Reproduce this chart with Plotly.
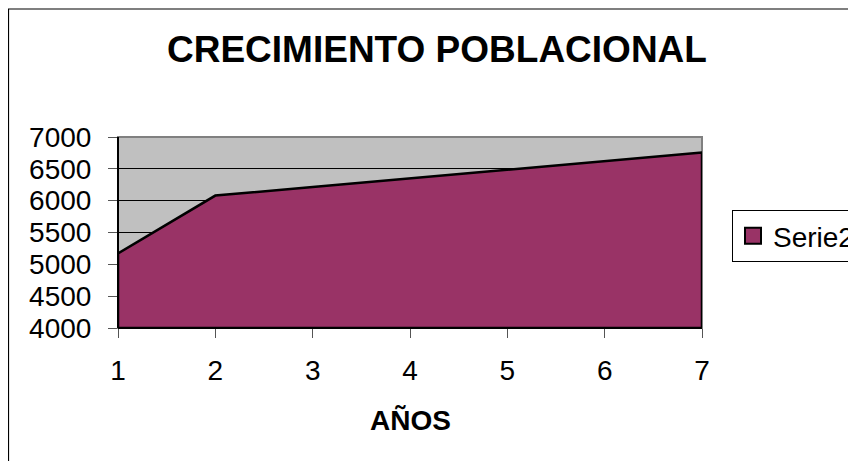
import plotly.graph_objects as go

# Data
years = [1, 2, 3, 4, 5, 6, 7]
serie2 = [5170, 6080, 6215, 6350, 6485, 6620, 6755]
y_ticks = [4000, 4500, 5000, 5500, 6000, 6500, 7000]
y_min, y_max = 4000, 7000

FONT = "Liberation Sans, Arial, sans-serif"
AREA = "#993366"

OFF = 8  # page body margin of the HTML page
W, H = 856 - OFF, 461 - OFF
# plot area in page pixels
PL, PR, PT, PB = 118, 702, 137, 328
L, R, T, B = PL - OFF, PR - OFF, PT - OFF, PB - OFF

def px_x(p):
    return (p - PL) / (PR - PL)

def px_y(p):
    return (PB - p) / (PB - PT)

fig = go.Figure()

# Area polygon closed down to the axis minimum
fig.add_trace(go.Scatter(
    x=years + [years[-1], years[0], years[0]],
    y=serie2 + [y_min, y_min, serie2[0]],
    mode="lines",
    fill="toself",
    fillcolor=AREA,
    line=dict(color="black", width=2.5),
    showlegend=False,
    hoverinfo="skip",
))

# Legend entry
fig.add_trace(go.Scatter(
    x=[None], y=[None],
    mode="markers",
    name="Serie2",
    marker=dict(symbol="square", size=17, color=AREA,
                line=dict(color="black", width=2)),
))

fig.update_layout(
    width=W, height=H,
    margin=dict(l=L, r=W - R, t=T, b=H - B, pad=0, autoexpand=False),
    paper_bgcolor="white",
    plot_bgcolor="#C0C0C0",
    font=dict(family=FONT, size=28, color="black"),
    showlegend=True,
    legend=dict(
        x=px_x(732), y=px_y(210), xanchor="left", yanchor="top",
        bgcolor="white", bordercolor="black", borderwidth=1,
        font=dict(family=FONT, size=28, color="black"),
        itemsizing="trace",
    ),
    xaxis=dict(
        range=[years[0], years[-1]],
        tickmode="array", tickvals=years, ticktext=[str(v) for v in years],
        ticks="outside", ticklen=9, tickcolor="#555555", tickwidth=1,
        showgrid=False, zeroline=False,
        showline=False, automargin=False,
        ticklabelstandoff=8,
        tickfont=dict(family=FONT, size=28),
    ),
    yaxis=dict(
        range=[y_min, y_max],
        tickmode="array", tickvals=y_ticks, ticktext=[str(v) for v in y_ticks],
        ticks="outside", ticklen=9, tickcolor="#555555", tickwidth=1,
        showgrid=True, gridcolor="black", gridwidth=1,
        zeroline=False, showline=False, automargin=False,
        ticklabelstandoff=11,
        tickfont=dict(family=FONT, size=28),
    ),
    shapes=[
        # plot area border (gray)
        dict(type="rect", xref="paper", yref="paper", x0=0, y0=0, x1=1, y1=1,
             line=dict(color="#808080", width=2), layer="below"),
        # left axis line
        dict(type="line", xref="paper", yref="paper", x0=0, y0=0, x1=0, y1=1,
             line=dict(color="black", width=2), layer="above"),
        # bottom axis line
        dict(type="line", xref="paper", yref="paper", x0=0, y0=0, x1=1, y1=0,
             line=dict(color="black", width=2), layer="above"),
        # outer chart frame
        dict(type="rect", xref="paper", yref="paper",
             x0=px_x(8.5), y0=px_y(461 + 40), x1=px_x(856 + 40), y1=px_y(9),
             line=dict(color="black", width=1.2)),
    ],
    annotations=[
        dict(text="<b>CRECIMIENTO POBLACIONAL</b>", xref="paper", yref="paper",
             x=px_x(437), y=px_y(50), xanchor="center", yanchor="middle",
             showarrow=False, font=dict(family=FONT, size=37, color="black")),
        dict(text="<b>AÑOS</b>", xref="paper", yref="paper",
             x=px_x(410), y=px_y(420), xanchor="center", yanchor="middle",
             showarrow=False, font=dict(family=FONT, size=28, color="black")),
    ],
)

fig.write_html("out.html")
